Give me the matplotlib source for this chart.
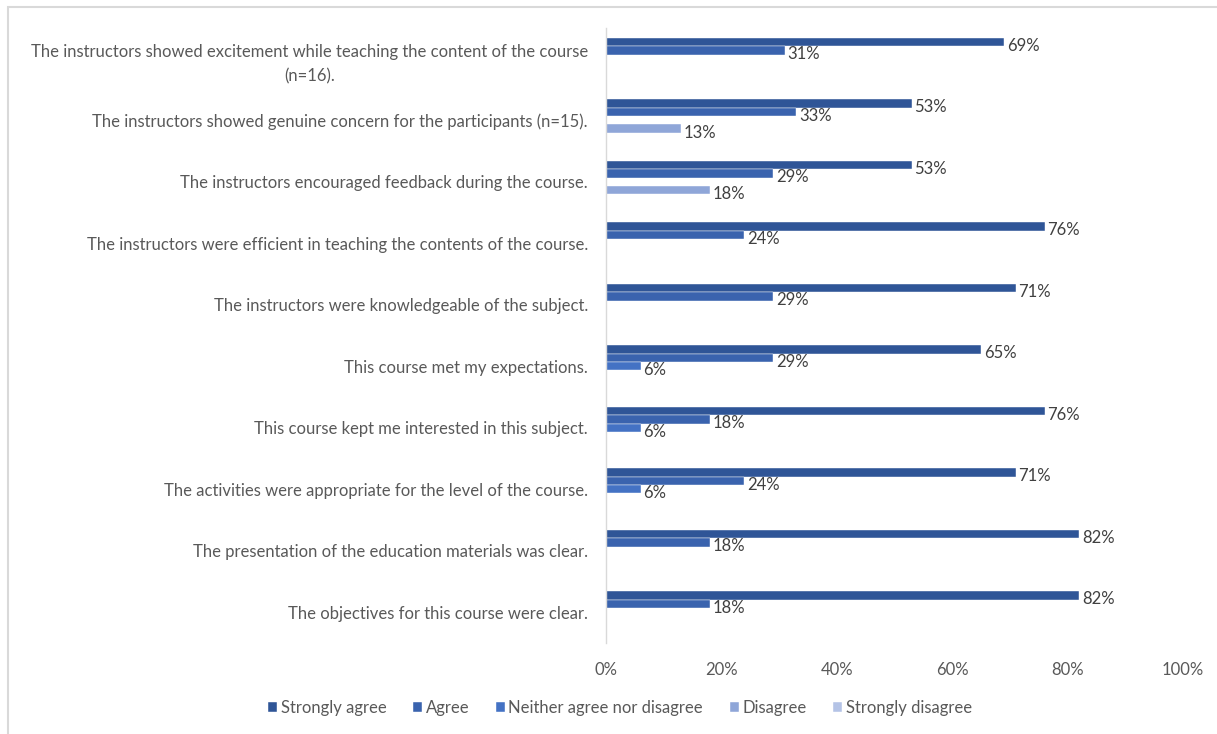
import matplotlib
matplotlib.use("Agg")
import matplotlib.pyplot as plt
import numpy as np
from matplotlib.patches import Rectangle

plt.rcParams['font.family'] = ['Lato', 'DejaVu Sans']

statements = [
    "The instructors showed excitement while teaching the content of the course\n(n=16).",
    "The instructors showed genuine concern for the participants (n=15).",
    "The instructors encouraged feedback during the course.",
    "The instructors were efficient in teaching the contents of the course.",
    "The instructors were knowledgeable of the subject.",
    "This course met my expectations.",
    "This course kept me interested in this subject.",
    "The activities were appropriate for the level of the course.",
    "The presentation of the education materials was clear.",
    "The objectives for this course were clear.",
]

responses = ["Strongly agree", "Agree", "Neither agree nor disagree",
             "Disagree", "Strongly disagree"]

# percentages per statement (None = no responses in that category)
strongly_agree = [69, 53, 53, 76, 71, 65, 76, 71, 82, 82]
agree          = [31, 33, 29, 24, 29, 29, 18, 24, 18, 18]
neutral        = [None, None, None, None, None, 6, 6, 6, None, None]
disagree       = [None, 13, 18, None, None, None, None, None, None, None]
strongly_dis   = [None] * 10

series = [strongly_agree, agree, neutral, disagree, strongly_dis]
colors = ["#2F5597", "#3A63AE", "#4472C4", "#8FA6D8", "#B4C3E6"]

text_color = "#595959"
label_color = "#404040"
fs = 12

fig = plt.figure(figsize=(12.17, 7.34), dpi=100)
ax = fig.add_axes([606 / 1217, 1 - 643 / 734, 577 / 1217, 615 / 734])

n = len(statements)
y = np.arange(n)
h = 0.138

for j, (vals, col, name) in enumerate(zip(series, colors, responses)):
    pos = y + (j - 2) * h
    widths = [v / 100 if v is not None else 0 for v in vals]
    ax.barh(pos, widths, height=h, color=col, label=name,
            edgecolor="white", linewidth=0.3)
    for p, v in zip(pos, vals):
        if v is None:
            continue
        ax.annotate(f"{v}%", xy=(v / 100, p), xytext=(2, -3),
                    textcoords="offset points", ha="left", va="center",
                    fontsize=fs, color=label_color)

ax.set_ylim(n - 0.5, -0.5)
ax.set_xlim(0, 1)
ax.set_xticks(np.linspace(0, 1, 6))
ax.set_xticklabels([f"{int(t)}%" for t in np.linspace(0, 100, 6)])
ax.set_yticks(y)
ax.set_yticklabels(statements)
for lbl in ax.get_yticklabels():
    lbl.set_multialignment("center")
    lbl.set_linespacing(1.6)

ax.tick_params(axis="x", length=0, pad=14, labelsize=fs, labelcolor=text_color)
ax.tick_params(axis="y", length=0, pad=13, labelsize=fs, labelcolor=text_color)

for s in ["top", "right", "bottom"]:
    ax.spines[s].set_visible(False)
ax.spines["left"].set_color("#D9D9D9")
ax.spines["left"].set_linewidth(1.0)

handles, labels = ax.get_legend_handles_labels()
leg = fig.legend(handles, labels, loc="center", bbox_to_anchor=(620 / 1217, 1 - 708 / 734),
                 ncol=5, frameon=False, fontsize=fs, handlelength=0.55,
                 handleheight=0.55, handletextpad=0.2, columnspacing=1.6,
                 labelcolor=text_color)

# chart border
fig.add_artist(Rectangle((8 / 1217, -0.05), 1.1, 1 - 7 / 734 + 0.05,
                         transform=fig.transFigure, fill=False,
                         edgecolor="#D9D9D9", linewidth=1.5))

fig.savefig("out.png", dpi=100, facecolor="white")
